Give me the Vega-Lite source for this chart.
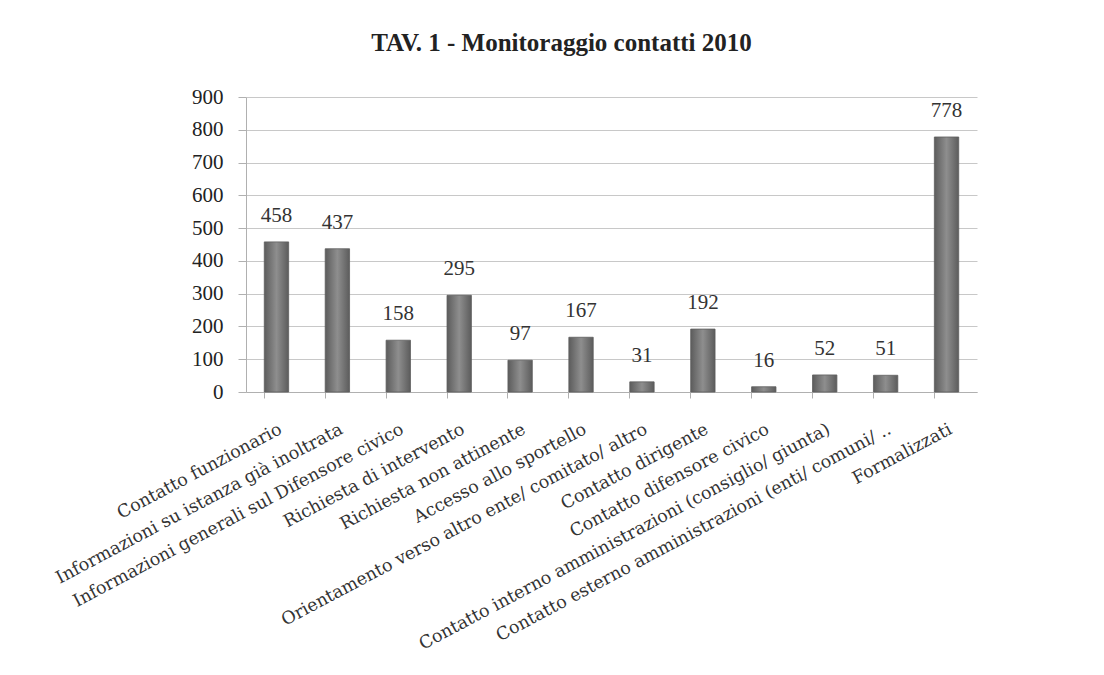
{
  "$schema": "https://vega.github.io/schema/vega-lite/v6.json",
  "width": 731,
  "height": 295,
  "autosize": {"type": "none"},
  "padding": {"left": 246, "top": 97, "right": 127, "bottom": 283},
  "background": "white",
  "title": {
    "text": "TAV. 1 - Monitoraggio contatti 2010",
    "font": "Liberation Serif",
    "fontSize": 25,
    "fontWeight": "bold",
    "color": "#222222",
    "anchor": "middle",
    "frame": "group",
    "dx": -50,
    "offset": 30
  },
  "data": {
    "values": [
      {"categoria": "Contatto funzionario", "valore": 458},
      {"categoria": "Informazioni su istanza già inoltrata", "valore": 437},
      {"categoria": "Informazioni generali sul Difensore civico", "valore": 158},
      {"categoria": "Richiesta di intervento", "valore": 295},
      {"categoria": "Richiesta non attinente", "valore": 97},
      {"categoria": "Accesso allo sportello", "valore": 167},
      {"categoria": "Orientamento verso altro ente/ comitato/ altro", "valore": 31},
      {"categoria": "Contatto dirigente", "valore": 192},
      {"categoria": "Contatto difensore civico", "valore": 16},
      {"categoria": "Contatto interno amministrazioni (consiglio/ giunta)", "valore": 52},
      {"categoria": "Contatto esterno amministrazioni (enti/ comuni/ ..", "valore": 51},
      {"categoria": "Formalizzati", "valore": 778}
    ]
  },
  "encoding": {
    "x": {
      "field": "categoria",
      "type": "nominal",
      "sort": null,
      "title": null,
      "scale": {"paddingInner": 0.6, "paddingOuter": 0.3},
      "axis": {
        "labelAngle": -28,
        "labelFont": "DejaVu Serif",
        "labelFontSize": 17.5,
        "labelColor": "#333333",
        "labelPadding": 22,
        "labelLimit": 700,
        "domainColor": "#b0b0b0",
        "tickColor": "#b0b0b0",
        "tickSize": 6,
        "bandPosition": 0,
        "grid": false
      }
    },
    "y": {
      "field": "valore",
      "type": "quantitative",
      "title": null,
      "scale": {"domain": [0, 900], "nice": false},
      "axis": {
        "values": [0, 100, 200, 300, 400, 500, 600, 700, 800, 900],
        "labelFont": "Liberation Serif",
        "labelFontSize": 21,
        "labelColor": "#222222",
        "labelPadding": 15,
        "tickSize": 8,
        "tickColor": "#b0b0b0",
        "domainColor": "#b0b0b0",
        "gridColor": "#c8c8c8",
        "grid": true
      }
    }
  },
  "layer": [
    {
      "mark": {
        "type": "bar",
        "stroke": "#5e5e5e",
        "strokeWidth": 0.8,
        "color": {
          "gradient": "linear",
          "x1": 0, "y1": 0, "x2": 1, "y2": 0,
          "stops": [
            {"offset": 0, "color": "#5c5c5c"},
            {"offset": 0.5, "color": "#8e8e8e"},
            {"offset": 1, "color": "#5c5c5c"}
          ]
        }
      }
    },
    {
      "mark": {
        "type": "text",
        "font": "Liberation Serif",
        "fontSize": 21,
        "color": "#333333",
        "baseline": "alphabetic",
        "dy": -20
      },
      "encoding": {"text": {"field": "valore", "type": "quantitative"}}
    }
  ],
  "config": {"view": {"stroke": null}}
}
